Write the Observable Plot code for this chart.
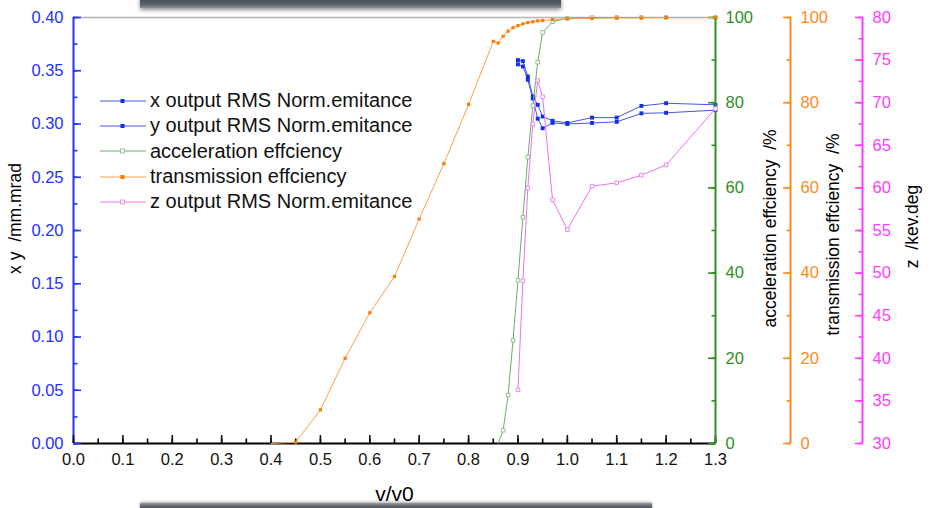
<!DOCTYPE html>
<html>
<head>
<meta charset="utf-8">
<script src="https://cdn.jsdelivr.net/npm/d3@7"></script>
<script src="https://cdn.jsdelivr.net/npm/@observablehq/plot@0.6"></script>
<style>
  body { margin: 0; background: #fff; }
  #chart { position: relative; width: 931px; height: 508px; overflow: hidden;
           font-family: "Liberation Sans", Arial, sans-serif; background: #fff; }
  #chart svg.layer { position: absolute; left: 0; top: 0; }
  .bar-top { position: absolute; left: 140px; top: -4px; width: 421px; height: 12px;
             background: linear-gradient(#3e434b, #5b616b 70%, #8c9098);
             box-shadow: 0 2px 4px rgba(0,0,0,0.45); }
  .bar-bottom { position: absolute; left: 140px; top: 503px; width: 512px; height: 10px;
                background: linear-gradient(#9a9da2, #5a5f67 35%, #41464d);
                box-shadow: 0 -1px 3px rgba(0,0,0,0.35); }
  .legend { position: absolute; left: 100px; top: 88px; font-size: 20px; color: #111; }
  .legend .row { display: flex; align-items: center; height: 25.3px; white-space: pre; }
  .legend svg { width: 46px; height: 12px; margin-right: 4px; }
</style>
</head>
<body>
<div id="chart">
  <div class="bar-top"></div>
  <div class="bar-bottom"></div>
</div>
<script>
// Beam output versus v/v0: emittances (x, y, z) and efficiencies
const ratioTrans = [0.40, 0.45, 0.50, 0.55, 0.60, 0.65, 0.70, 0.75, 0.80, 0.85, 0.86, 0.87, 0.88, 0.89,
                    0.90, 0.91, 0.92, 0.93, 0.94, 0.95, 0.97, 1.00, 1.05, 1.10, 1.15, 1.20, 1.30];
const transmission = [0, 0.3, 7.9, 20.0, 30.7, 39.2, 52.7, 65.7, 79.6, 94.4, 94.0, 95.6, 96.8, 97.6,
                      98.1, 98.5, 98.8, 99.0, 99.2, 99.3, 99.5, 99.7, 99.8, 99.9, 99.9, 100, 100];

const ratioAccel = [0.86, 0.87, 0.88, 0.89, 0.90, 0.91, 0.92, 0.93, 0.94, 0.95, 0.97, 1.00,
                    1.05, 1.10, 1.15, 1.20, 1.30];
const acceleration = [0, 3.1, 11.4, 24.2, 38.3, 53.1, 67.2, 79.3, 89.5, 96.5, 99.0, 99.8,
                      100, 100, 100, 100, 100];

const ratioEmit = [0.90, 0.91, 0.92, 0.93, 0.94, 0.95, 0.97, 1.00, 1.05, 1.10, 1.15, 1.20, 1.30];
const xEmittance = [0.360, 0.359, 0.3446, 0.326, 0.318, 0.307, 0.303, 0.301, 0.306, 0.306, 0.317, 0.3195, 0.318];
const yEmittance = [0.356, 0.354, 0.3415, 0.324, 0.305, 0.296, 0.301, 0.300, 0.301, 0.302, 0.310, 0.3105, 0.313];
const zEmittance = [36.3, 49.1, 60.0, 67.5, 72.6, 70.7, 58.6, 55.1, 60.2, 60.6, 61.5, 62.7, 69.3];

const xTicks = d3.range(0, 14).map(i => i / 10);
const xMinor = d3.range(0, 27).map(i => i / 20);
const emitTicks = d3.range(0, 9).map(i => i * 0.05);
const emitMinor = d3.range(0, 17).map(i => i * 0.025);
const pctTicks = [0, 20, 40, 60, 80, 100];
const pctMinor = d3.range(0, 11).map(i => i * 10);
const zTicks = d3.range(30, 81, 5);
const zMinor = d3.range(0, 21).map(i => 30 + i * 2.5);

const seriesNames = ["x output RMS Norm.emitance", "y output RMS Norm.emitance",
                     "acceleration effciency", "transmission effciency", "z output RMS Norm.emitance"];

const C = {
  blueAxis: "#2233ff", blueLine: "#4656e0", blueDot: "#1030ee",
  greenAxis: "#2f8f1f", greenLine: "#6aad6a", greenDot: "#8cc48c",
  orangeAxis: "#ff8a1c", orangeLine: "#f9a04e", orangeDot: "#ff7a00",
  magAxis: "#ff3cff", magLine: "#ee72ee", magDot: "#ee88ee"
};

const rows = (xs, ys) => xs.map((x, i) => ({x, y: ys[i]}));
const xData = rows(ratioEmit, xEmittance);
const yData = rows(ratioEmit, yEmittance);
const aData = rows(ratioAccel, acceleration);
const tData = rows(ratioTrans, transmission);
const zData = rows(ratioEmit, zEmittance);
// markers lying on the baseline are covered by the axis
const aboveZero = d => d.y > 0;

const chart = document.getElementById("chart");
const W = 931, H = 508;
const margins = {marginTop: 17, marginRight: 216, marginBottom: 65, marginLeft: 73};
const font = "Liberation Sans, Arial, sans-serif";

function layer(yDomain, marks) {
  const svg = Plot.plot({
    width: W, height: H, ...margins,
    x: {domain: [0, 1.3], axis: null},
    y: {domain: yDomain},
    style: {background: "transparent", fontFamily: font, fontSize: "16.5px", overflow: "visible"},
    marks
  });
  svg.classList.add("layer");
  chart.appendChild(svg);
}

function title(text, frameAnchor, dx, dy, rotate, fontSize) {
  return Plot.text([text], {frameAnchor, dx, dy, rotate, fontSize, fill: "#000",
                            textAnchor: "middle", lineAnchor: "middle"});
}

// Right-hand axis: major ticks with labels, minor ticks, axis line and title
function rightAxis(ticks, minor, color, offset, label, titleDx, titleDy) {
  return [
    Plot.ruleX([1.3], {dx: offset, stroke: color, strokeWidth: 2}),
    Plot.axisY({anchor: "right", ticks: minor, tickSize: -4.5, tickFormat: () => "", dx: offset, color, strokeWidth: 1.6, label: null}),
    Plot.axisY({anchor: "right", ticks, tickSize: -8, tickPadding: 18, dx: offset, color, strokeWidth: 1.6, label: null}),
    title(label, "right", titleDx, titleDy, -90, 17.5)
  ];
}

// Emittance layer (x, y) with the bottom and left axes
layer([0, 0.4], [
  Plot.ruleY([0.4], {stroke: "#b4b4b4", strokeWidth: 1.5}),
  Plot.line(xData, {x: "x", y: "y", stroke: C.blueLine, strokeWidth: 1}),
  Plot.line(yData, {x: "x", y: "y", stroke: C.blueLine, strokeWidth: 1}),
  Plot.dot(xData, {x: "x", y: "y", symbol: "square", r: 2.2, fill: C.blueDot}),
  Plot.dot(yData, {x: "x", y: "y", symbol: "square", r: 2.2, fill: C.blueDot}),
  Plot.ruleY([0], {stroke: "#000", strokeWidth: 2}),
  Plot.ruleX([0], {stroke: C.blueAxis, strokeWidth: 2}),
  Plot.axisX({ticks: xMinor, tickSize: -4.5, tickFormat: () => "", color: "#000", strokeWidth: 1.6, label: null}),
  Plot.axisX({ticks: xTicks, tickSize: -8, tickPadding: 18, tickFormat: d3.format(".1f"), color: "#111", strokeWidth: 1.6, label: null}),
  Plot.axisY({ticks: emitMinor, tickSize: -4.5, tickFormat: () => "", color: C.blueAxis, strokeWidth: 1.6, label: null}),
  Plot.axisY({ticks: emitTicks, tickSize: -8, tickPadding: 18, tickFormat: d3.format(".2f"), color: C.blueAxis, strokeWidth: 1.6, label: null}),
  title("x y  /mm.mrad", "left", -58, -12, -90, 17.5),
  title("v/v0", "bottom", 0, 51, 0, 21)
]);

// Acceleration efficiency layer
layer([0, 100], [
  Plot.line(aData, {x: "x", y: "y", stroke: C.greenLine, strokeWidth: 1}),
  Plot.dot(aData, {x: "x", y: "y", filter: aboveZero, symbol: "square", r: 2, stroke: C.greenDot, fill: "#fff", strokeWidth: 1}),
  ...rightAxis(pctTicks, pctMinor, C.greenAxis, 0, "acceleration effciency  /%", 55, -2)
]);

// Transmission efficiency layer
layer([0, 100], [
  Plot.line(tData, {x: "x", y: "y", stroke: C.orangeLine, strokeWidth: 1}),
  Plot.dot(tData, {x: "x", y: "y", filter: aboveZero, symbol: "square", r: 1.8, fill: C.orangeDot}),
  ...rightAxis(pctTicks, pctMinor, C.orangeAxis, 75, "transmission effciency  /%", 118, 4)
]);

// Longitudinal emittance layer
layer([30, 80], [
  Plot.line(zData, {x: "x", y: "y", stroke: C.magLine, strokeWidth: 1}),
  Plot.dot(zData, {x: "x", y: "y", symbol: "square", r: 2, stroke: C.magDot, fill: "#fff", strokeWidth: 1}),
  ...rightAxis(zTicks, zMinor, C.magAxis, 147, "z  /kev.deg", 197, -4)
]);

// Legend
const swatches = [
  {line: C.blueLine, fill: C.blueDot, stroke: "none"},
  {line: C.blueLine, fill: C.blueDot, stroke: "none"},
  {line: C.greenLine, fill: "#fff", stroke: C.greenDot},
  {line: C.orangeLine, fill: C.orangeDot, stroke: "none"},
  {line: C.magLine, fill: "#fff", stroke: C.magDot}
];
const legend = document.createElement("div");
legend.className = "legend";
seriesNames.forEach((name, i) => {
  const s = swatches[i];
  const row = document.createElement("div");
  row.className = "row";
  row.innerHTML = `<svg viewBox="0 0 46 12"><line x1="0" x2="46" y1="6" y2="6" stroke="${s.line}" stroke-width="1"/>` +
    `<rect x="20.5" y="4" width="4" height="4" fill="${s.fill}" stroke="${s.stroke}" stroke-width="0.9"/></svg>` +
    `<span>${name}</span>`;
  legend.appendChild(row);
});
chart.appendChild(legend);
</script>
</body>
</html>
